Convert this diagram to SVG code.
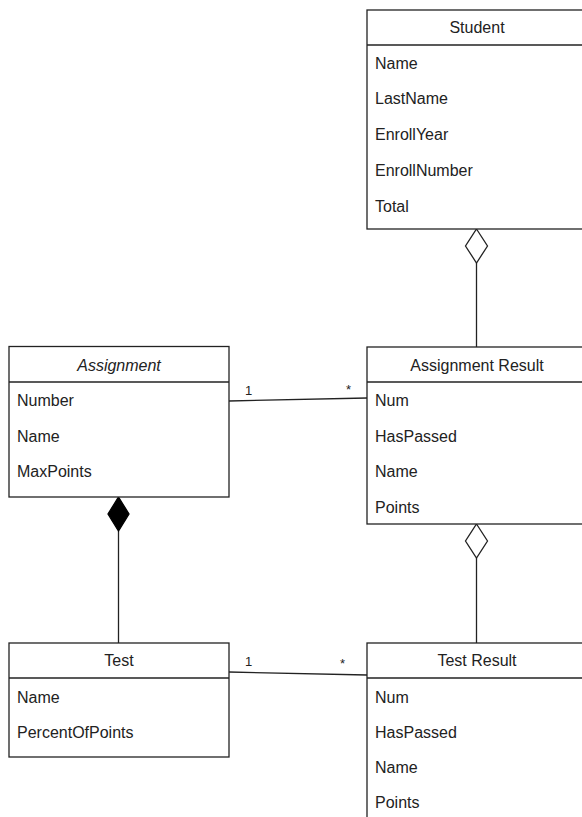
<svg xmlns="http://www.w3.org/2000/svg" width="582" height="817" viewBox="0 0 582 817">
<style>
.box{fill:#fff;stroke:#222;stroke-width:1.3}
.sep{stroke:#222;stroke-width:1.3}
.t{font-family:"Liberation Sans",Arial,sans-serif;font-size:16px;fill:#222}
.h{text-anchor:middle}
.i{font-style:italic}
.lbl{font-family:"Liberation Sans",Arial,sans-serif;font-size:13px;fill:#222}
.ln{stroke:#222;stroke-width:1.3;fill:none}
.od{fill:#fff;stroke:#222;stroke-width:1.3}
.fd{fill:#000;stroke:#000;stroke-width:1.3}
</style>
<rect width="582" height="817" fill="#fff"/>
<g id="connectors">
<line class="ln" x1="476.5" y1="263" x2="476.5" y2="347"/>
<polygon class="od" points="476.5,229 487.5,246 476.5,263 465.5,246"/>
<line class="ln" x1="118.5" y1="531" x2="118.5" y2="643"/>
<polygon class="fd" points="118.5,497 129,514 118.5,531 108,514"/>
<line class="ln" x1="476.5" y1="558" x2="476.5" y2="643"/>
<polygon class="od" points="476.5,524 487.5,541 476.5,558 465.5,541"/>
<line class="ln" x1="229" y1="401" x2="367" y2="398"/>
<text class="lbl" x="245" y="395">1</text>
<text class="lbl" x="346" y="394">*</text>
<line class="ln" x1="229" y1="672" x2="367" y2="675"/>
<text class="lbl" x="245" y="666">1</text>
<text class="lbl" x="340" y="668">*</text>
</g>
<g id="student">
<rect class="box" x="367" y="10" width="220" height="219"/>
<line class="sep" x1="367" y1="45" x2="587" y2="45"/>
<text class="t h" x="477" y="33">Student</text>
<text class="t" x="375" y="68.5">Name</text>
<text class="t" x="375" y="104">LastName</text>
<text class="t" x="375" y="140">EnrollYear</text>
<text class="t" x="375" y="176">EnrollNumber</text>
<text class="t" x="375" y="212">Total</text>
</g>
<g id="assignment">
<rect class="box" x="9" y="346.5" width="220" height="150.5"/>
<line class="sep" x1="9" y1="382" x2="229" y2="382"/>
<text class="t h i" x="119" y="371">Assignment</text>
<text class="t" x="17" y="406">Number</text>
<text class="t" x="17" y="441.5">Name</text>
<text class="t" x="17" y="477">MaxPoints</text>
</g>
<g id="assignment-result">
<rect class="box" x="367" y="347" width="220" height="177"/>
<line class="sep" x1="367" y1="382" x2="587" y2="382"/>
<text class="t h" x="477" y="371">Assignment Result</text>
<text class="t" x="375" y="406">Num</text>
<text class="t" x="375" y="441.5">HasPassed</text>
<text class="t" x="375" y="477">Name</text>
<text class="t" x="375" y="512.5">Points</text>
</g>
<g id="test">
<rect class="box" x="9" y="643" width="220" height="114"/>
<line class="sep" x1="9" y1="678" x2="229" y2="678"/>
<text class="t h" x="119" y="666">Test</text>
<text class="t" x="17" y="702.5">Name</text>
<text class="t" x="17" y="738">PercentOfPoints</text>
</g>
<g id="test-result">
<rect class="box" x="367" y="643" width="220" height="200"/>
<line class="sep" x1="367" y1="678" x2="587" y2="678"/>
<text class="t h" x="477" y="666">Test Result</text>
<text class="t" x="375" y="702.5">Num</text>
<text class="t" x="375" y="738">HasPassed</text>
<text class="t" x="375" y="773">Name</text>
<text class="t" x="375" y="808">Points</text>
</g>
</svg>
